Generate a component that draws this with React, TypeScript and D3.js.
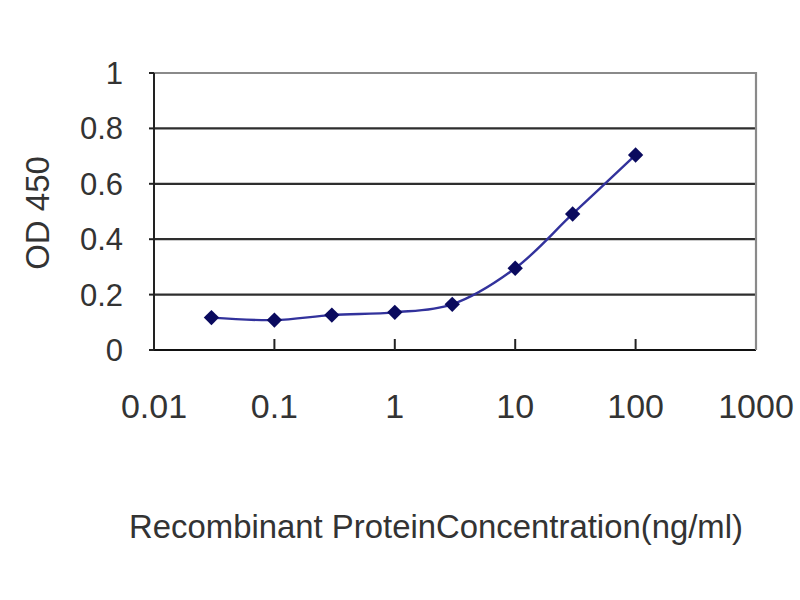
import * as d3 from "d3";
import React, { useEffect, useRef } from "react";

// concentrations (ng/ml) and measured OD 450
const concentrations = [0.03, 0.1, 0.3, 1, 3, 10, 30, 100];
const odValues = [0.117, 0.108, 0.126, 0.136, 0.165, 0.295, 0.491, 0.704];

const xTicks = [0.01, 0.1, 1, 10, 100, 1000];
const xTickLabels = ["0.01", "0.1", "1", "10", "100", "1000"];
const yTicks = [0, 0.2, 0.4, 0.6, 0.8, 1];
const yTickLabels = ["0", "0.2", "0.4", "0.6", "0.8", "1"];

const xTitle = "Recombinant ProteinConcentration(ng/ml)";
const yTitle = "OD 450";

const App: React.FC = () => {
  const ref = useRef<SVGSVGElement | null>(null);

  useEffect(() => {
    if (!ref.current) return;
    const svg = d3.select(ref.current);
    svg.selectAll("*").remove();

    const width = 800;
    const height = 600;
    const left = 154;
    const right = 756;
    const top = 73;
    const bottom = 350;
    const font = "'Liberation Sans', Arial, sans-serif";

    const x = d3.scaleLog().domain([0.01, 1000]).range([left, right]);
    const y = d3.scaleLinear().domain([0, 1]).range([bottom, top]);

    svg.attr("width", width).attr("height", height);
    svg.append("rect").attr("width", width).attr("height", height).attr("fill", "#fff");

    // horizontal gridlines
    svg
      .append("g")
      .selectAll("line")
      .data(yTicks.filter((t) => t > 0 && t < 1))
      .enter()
      .append("line")
      .attr("x1", left)
      .attr("x2", right)
      .attr("y1", (d) => y(d))
      .attr("y2", (d) => y(d))
      .attr("stroke", "#2e2e2e")
      .attr("stroke-width", 2.2);

    // top and right border
    svg
      .append("path")
      .attr("d", `M${left},${y(1)}H${right}V${bottom}`)
      .attr("fill", "none")
      .attr("stroke", "#8a8a8a")
      .attr("stroke-width", 2.2);

    // y axis
    svg
      .append("line")
      .attr("x1", left)
      .attr("x2", left)
      .attr("y1", top)
      .attr("y2", bottom)
      .attr("stroke", "#222")
      .attr("stroke-width", 2);
    svg
      .append("g")
      .selectAll("line")
      .data(yTicks)
      .enter()
      .append("line")
      .attr("x1", left - 5)
      .attr("x2", left)
      .attr("y1", (d) => y(d))
      .attr("y2", (d) => y(d))
      .attr("stroke", "#222")
      .attr("stroke-width", 2);

    // x axis
    svg
      .append("line")
      .attr("x1", left)
      .attr("x2", right)
      .attr("y1", bottom)
      .attr("y2", bottom)
      .attr("stroke", "#111")
      .attr("stroke-width", 2.2);
    svg
      .append("g")
      .selectAll("line")
      .data(xTicks)
      .enter()
      .append("line")
      .attr("x1", (d) => x(d))
      .attr("x2", (d) => x(d))
      .attr("y1", bottom - 11)
      .attr("y2", bottom)
      .attr("stroke", (d) => (d === 1000 ? "#8a8a8a" : "#222"))
      .attr("stroke-width", 2);

    // tick labels
    svg
      .append("g")
      .selectAll("text")
      .data(yTicks)
      .enter()
      .append("text")
      .attr("x", 123)
      .attr("y", (d) => y(d) + 11)
      .attr("text-anchor", "end")
      .attr("font-family", font)
      .attr("font-size", 31)
      .attr("fill", "#333")
      .text((_, i) => yTickLabels[i]);

    svg
      .append("g")
      .selectAll("text")
      .data(xTicks)
      .enter()
      .append("text")
      .attr("x", (d) => x(d))
      .attr("y", 418)
      .attr("text-anchor", "middle")
      .attr("font-family", font)
      .attr("font-size", 34)
      .attr("fill", "#333")
      .text((_, i) => xTickLabels[i]);

    // axis titles
    svg
      .append("text")
      .attr("x", 129)
      .attr("y", 538)
      .attr("textLength", 614)
      .attr("lengthAdjust", "spacingAndGlyphs")
      .attr("font-family", font)
      .attr("font-size", 33)
      .attr("fill", "#333")
      .text(xTitle);

    svg
      .append("text")
      .attr("transform", `translate(49,213) rotate(-90)`)
      .attr("text-anchor", "middle")
      .attr("font-family", font)
      .attr("font-size", 33)
      .attr("fill", "#333")
      .text(yTitle);

    // smoothed series line
    const pts = concentrations.map((c, i) => [c, odValues[i]] as [number, number]);
    const line = d3
      .line<[number, number]>()
      .x((d) => x(d[0]))
      .y((d) => y(d[1]))
      .curve(d3.curveCatmullRom.alpha(0.5));
    svg
      .append("path")
      .attr("d", line(pts) || "")
      .attr("fill", "none")
      .attr("stroke", "#32329c")
      .attr("stroke-width", 2.4);

    // diamond markers
    const diamond = d3.symbol().type(d3.symbolDiamond2).size(150);
    svg
      .append("g")
      .selectAll("path")
      .data(pts)
      .enter()
      .append("path")
      .attr("d", diamond() || "")
      .attr("transform", (d) => `translate(${x(d[0])},${y(d[1])})`)
      .attr("fill", "#0a0a5e");
  }, []);

  return (
    <svg ref={ref} style={{ position: "absolute", left: 0, top: 0 }}></svg>
  );
};

export default App;
